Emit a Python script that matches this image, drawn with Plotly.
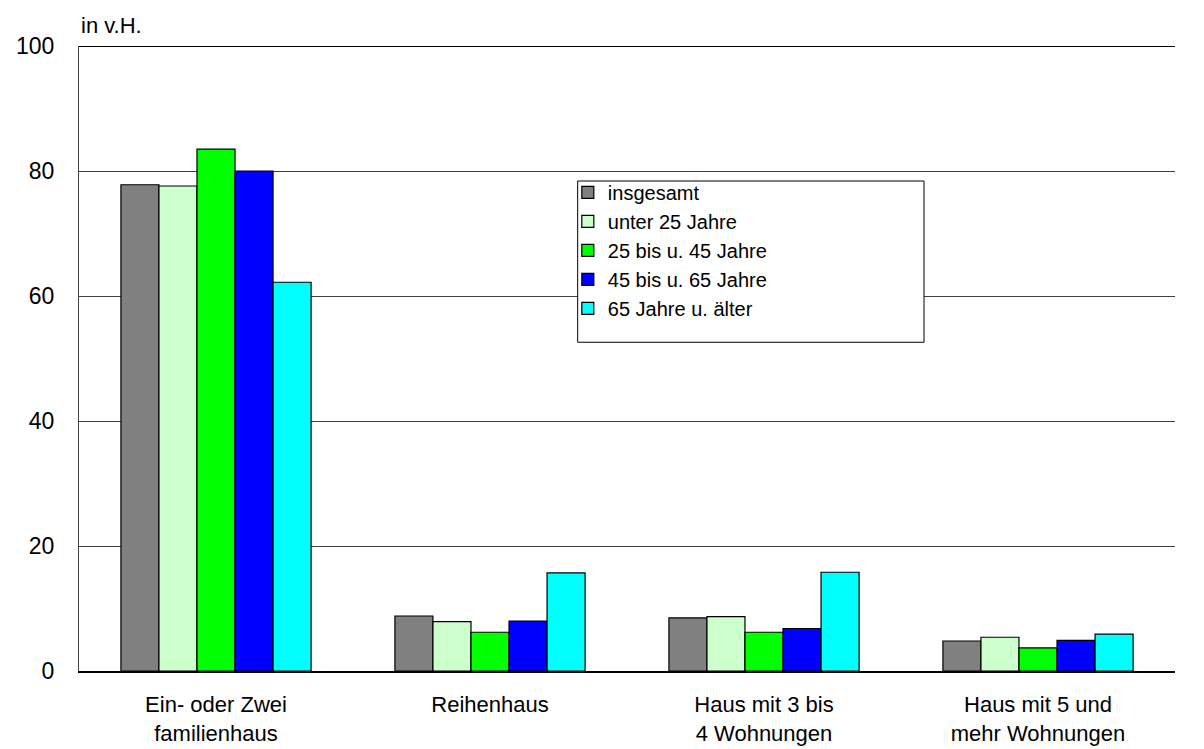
import plotly.graph_objects as go

categories = ["Ein- oder Zwei<br>familienhaus", "Reihenhaus",
              "Haus mit 3 bis<br>4 Wohnungen", "Haus mit 5 und<br>mehr Wohnungen"]
series_names = ["insgesamt", "unter 25 Jahre", "25 bis u. 45 Jahre",
                "45 bis u. 65 Jahre", "65 Jahre u. älter"]
insgesamt = [77.8, 8.8, 8.5, 4.8]
unter_25 = [77.6, 7.9, 8.7, 5.4]
j25_45 = [83.5, 6.2, 6.2, 3.7]
j45_65 = [80.0, 8.0, 6.8, 4.9]
j65_plus = [62.2, 15.7, 15.8, 5.9]
series_values = [insgesamt, unter_25, j25_45, j45_65, j65_plus]
colors = ["#808080", "#CCFFCC", "#00FF00", "#0000FF", "#00FFFF"]
y_ticks = [0, 20, 40, 60, 80, 100]

font_family = "Liberation Sans, Arial, sans-serif"

fig = go.Figure()
for name, vals, col in zip(series_names, series_values, colors):
    fig.add_trace(go.Bar(
        x=categories, y=vals, name=name,
        marker=dict(color=col, line=dict(color="#000000", width=1.2)),
    ))

fig.update_layout(
    width=1204, height=749,
    margin=dict(l=79, r=29, t=46, b=78),
    paper_bgcolor="white", plot_bgcolor="white",
    barmode="group", bargap=0.306, bargroupgap=0.0,
    font=dict(family=font_family, size=21, color="#000000"),
    showlegend=True,
    legend=dict(
        x=0.446, y=0.797, xanchor="left", yanchor="top",
        bgcolor="rgba(0,0,0,0)", borderwidth=0,
        font=dict(size=20), itemwidth=30, tracegroupgap=0,
    ),
    xaxis=dict(
        showline=True, linecolor="#000000", linewidth=1.5,
        ticks="", tickfont=dict(size=22), showgrid=False,
        ticklabelstandoff=13, automargin=False,
    ),
    yaxis=dict(
        range=[0, 100], tickvals=y_ticks, showline=True,
        linecolor="#404040", linewidth=1, ticks="",
        showgrid=True, gridcolor="#404040", gridwidth=1,
        ticklabelstandoff=19, tickfont=dict(size=23), zeroline=False,
        automargin=False,
    ),
    shapes=[
        # top border line at 100
        dict(type="line", xref="paper", yref="y", x0=0, x1=1, y0=100, y1=100,
             line=dict(color="#000000", width=2)),
        # legend frame
        dict(type="rect", xref="paper", yref="paper",
             x0=0.455, x1=0.771, y0=0.784, y1=0.526,
             fillcolor="white", line=dict(color="#000000", width=1),
             layer="above"),
    ],
    annotations=[
        dict(text="in v.H.", xref="paper", yref="paper", x=0, y=1.032,
             xanchor="left", yanchor="middle", showarrow=False,
             font=dict(size=22)),
    ],
)

fig.write_html("out.html")
